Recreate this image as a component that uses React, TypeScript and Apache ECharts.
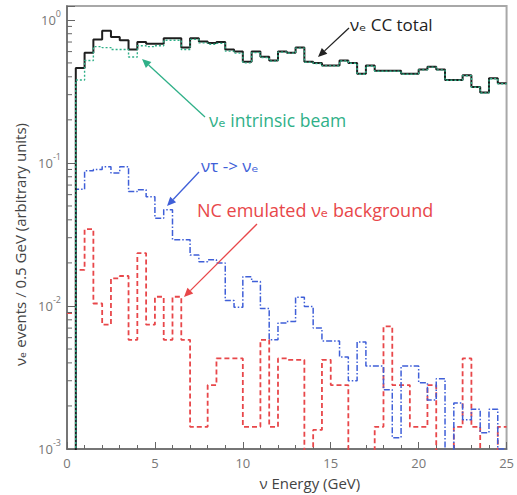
import React, { useEffect, useRef } from "react";
import * as echarts from "echarts";

// ---------- data (0.5 GeV bins from 0 to 25 GeV; 0 = empty bin) ----------
const BIN_WIDTH = 0.5;
const X_MAX = 25;
const X_TICKS = [0, 5, 10, 15, 20, 25];
const Y_DECADES = [0.001, 0.01, 0.1, 1];
const Y_MINOR = [
  0.002, 0.003, 0.004, 0.005, 0.006, 0.007, 0.008, 0.009,
  0.02, 0.03, 0.04, 0.05, 0.06, 0.07, 0.08, 0.09,
  0.2, 0.3, 0.4, 0.5, 0.6, 0.7, 0.8, 0.9,
];

const ccTotal = [
  0, 0.46, 0.59, 0.73, 0.84, 0.76, 0.72, 0.62, 0.70, 0.68,
  0.68, 0.745, 0.745, 0.64, 0.745, 0.705, 0.69, 0.70, 0.62, 0.60,
  0.51, 0.60, 0.553, 0.52, 0.60, 0.59, 0.64, 0.51, 0.50, 0.48,
  0.48, 0.52, 0.50, 0.42, 0.48, 0.44, 0.44, 0.44, 0.42, 0.42,
  0.45, 0.47, 0.45, 0.38, 0.38, 0.41, 0.34, 0.31, 0.39, 0.36,
];

const intrinsicBeam = [
  0, 0.38, 0.52, 0.65, 0.64, 0.62, 0.62, 0.55, 0.66, 0.65,
  0.66, 0.72, 0.72, 0.62, 0.73, 0.69, 0.675, 0.685, 0.605, 0.585,
  0.50, 0.59, 0.545, 0.515, 0.595, 0.585, 0.635, 0.505, 0.495, 0.477,
  0.477, 0.516, 0.497, 0.417, 0.476, 0.437, 0.437, 0.438, 0.417, 0.418,
  0.447, 0.467, 0.447, 0.378, 0.378, 0.407, 0.338, 0.308, 0.388, 0.358,
];

const tauToE = [
  0, 0.0655, 0.088, 0.090, 0.094, 0.085, 0.094, 0.063, 0.065, 0.058,
  0.041, 0.047, 0.029, 0.029, 0.0227, 0.0204, 0.021, 0.020, 0.0109, 0.0098,
  0.016, 0.0148, 0.0096, 0.0058, 0.0076, 0.0078, 0.0115, 0.0099, 0.0070, 0.0057,
  0.0057, 0.0044, 0.0030, 0.0056, 0.0038, 0.0038, 0.0026, 0.0012, 0.0038, 0.0038,
  0.0029, 0.0022, 0.0031, 0, 0.0021, 0.0016, 0.0019, 0.0013, 0.0019, 0.0010,
];

const ncBackground = [
  0.0089, 0.0179, 0.0344, 0.0104, 0.0074, 0.0156, 0.0162, 0.0058, 0.0234, 0.0074,
  0.0116, 0.0058, 0.0116, 0.0058, 0.00143, 0.00143, 0.0028, 0.0043, 0.0043, 0.0043,
  0.00143, 0.00143, 0.0058, 0.00143, 0.0043, 0.0042, 0.0042, 0, 0.00136, 0.0042,
  0.0028, 0.0028, 0, 0, 0, 0.00143, 0.0072, 0.0028, 0.0028, 0.00143,
  0.00143, 0.0028, 0, 0, 0.00143, 0.0043, 0.00143, 0, 0, 0.00143,
];

// ---------- helpers ----------
const FONT = '"Open Sans", "DejaVu Sans", sans-serif';
const EMPTY_FLOOR = 1e-5; // empty bins drawn below the axis (clipped)

function histPoints(values: number[]) {
  const pts: [number, number][] = values.map((v, i) => [i * BIN_WIDTH, v > 0 ? v : EMPTY_FLOOR]);
  const last = values[values.length - 1];
  pts.push([X_MAX, last > 0 ? last : EMPTY_FLOOR]);
  return pts;
}

function arrow(x1: number, y1: number, x2: number, y2: number, color: string, head = 9) {
  const ang = Math.atan2(y2 - y1, x2 - x1);
  const hx = x2 - head * Math.cos(ang);
  const hy = y2 - head * Math.sin(ang);
  const px = -Math.sin(ang) * head * 0.45;
  const py = Math.cos(ang) * head * 0.45;
  return [
    { type: "line", shape: { x1, y1, x2: hx, y2: hy }, style: { stroke: color, lineWidth: 1.3 }, z: 100 },
    {
      type: "polygon",
      shape: { points: [[x2, y2], [hx + px, hy + py], [hx - px, hy - py]] },
      style: { fill: color },
      z: 100,
    },
  ];
}

function label(x: number, y: number, text: string, color: string, size = 16) {
  return {
    type: "text",
    x,
    y,
    z: 100,
    style: { text, fill: color, fontSize: size, fontFamily: FONT, align: "left", verticalAlign: "middle" },
  };
}

export default function App() {
  const ref = useRef<HTMLDivElement>(null);

  useEffect(() => {
    if (!ref.current) return;
    const chart = echarts.init(ref.current, undefined, { renderer: "svg" });

    const BLACK = "#1e1e1e";
    const GREEN = "#2fb088";
    const BLUE = "#3f5fd8";
    const RED = "#e8474a";

    const option: any = {
      animation: false,
      backgroundColor: "#ffffff",
      grid: {
        left: 67,
        right: 9,
        top: 6,
        bottom: 46,
        show: true,
        borderColor: "#a8a8a8",
        borderWidth: 2,
        backgroundColor: "transparent",
      },
      xAxis: {
        type: "value",
        min: 0,
        max: X_MAX,
        interval: 5,
        name: "ν Energy (GeV)",
        nameLocation: "middle",
        nameGap: 26,
        nameTextStyle: { fontSize: 15, color: "#444", fontFamily: FONT, padding: [0, 0, 0, 46] },
        axisLine: { show: true, lineStyle: { color: "#666", width: 1.5 } },
        axisTick: { show: true, inside: true, length: 7, lineStyle: { color: "#666" } },
        minorTick: { show: true, splitNumber: 5, length: 4, lineStyle: { color: "#666" } },
        axisLabel: {
          color: "#777",
          fontSize: 13,
          fontFamily: FONT,
          margin: 7,
          formatter: (v: number) => (X_TICKS.indexOf(v) >= 0 ? String(v) : ""),
        },
        splitLine: { show: false },
      },
      yAxis: {
        type: "log",
        logBase: 10,
        min: Y_DECADES[0],
        max: 1.25,
        name: "νₑ events / 0.5 GeV (arbitrary units)",
        nameLocation: "middle",
        nameGap: 34,
        nameTextStyle: { fontSize: 15, color: "#444", fontFamily: FONT, padding: [0, 34, 0, 0] },
        axisLine: { show: true, lineStyle: { color: "#666", width: 1.5 } },
        axisTick: { show: true, inside: true, length: 8, lineStyle: { color: "#666" } },
        splitLine: { show: false },
        axisLabel: {
          margin: 6,
          color: "#777",
          fontFamily: FONT,
          formatter: (v: number) => {
            const e = Math.log10(v);
            const r = Math.round(e);
            if (Math.abs(e - r) > 1e-6) return "";
            return "{b|10}{s|" + r + "}";
          },
          rich: {
            b: { fontSize: 13, color: "#777", fontFamily: FONT, lineHeight: 22 },
            s: { fontSize: 9, color: "#777", fontFamily: FONT, verticalAlign: "top", lineHeight: 12 },
          },
        },
      },
      series: [
        {
          name: "NC emulated νe background",
          type: "line",
          step: "end",
          data: histPoints(ncBackground),
          showSymbol: false,
          clip: true,
          lineStyle: { color: RED, width: 1.8, type: [5, 3] },
          z: 3,
        },
        {
          name: "ντ -> νe",
          type: "line",
          step: "end",
          data: histPoints(tauToE),
          showSymbol: false,
          clip: true,
          lineStyle: { color: BLUE, width: 1.5, type: [6, 2, 1.5, 2] },
          z: 4,
        },
        {
          name: "νe CC total",
          type: "line",
          step: "end",
          data: histPoints(ccTotal),
          showSymbol: false,
          clip: true,
          lineStyle: { color: BLACK, width: 2 },
          z: 5,
        },
        {
          name: "νe intrinsic beam",
          type: "line",
          step: "end",
          data: histPoints(intrinsicBeam),
          showSymbol: false,
          clip: true,
          lineStyle: { color: GREEN, width: 1.4, type: [2, 2] },
          z: 6,
        },
        {
          name: "minor ticks",
          type: "custom",
          silent: true,
          clip: false,
          z: 7,
          data: Y_MINOR.map((v) => [0, v]),
          renderItem: (_params: any, api: any) => {
            const p = api.coord([0, api.value(1)]);
            return {
              type: "line",
              shape: { x1: p[0], y1: p[1], x2: p[0] + 5, y2: p[1] },
              style: { stroke: "#666", lineWidth: 1 },
            };
          },
        },
      ],
      graphic: [
        label(350, 24, "νₑ CC total", "#222", 17),
        ...arrow(349, 28, 318, 57, "#222"),
        label(209, 120, "νₑ intrinsic beam", GREEN, 17.5),
        ...arrow(205, 117, 142, 59, GREEN),
        label(201, 165, "ντ -> νₑ", BLUE, 17),
        ...arrow(199, 172, 167, 206, BLUE),
        label(197, 210, "NC emulated νₑ background", RED, 18),
        ...arrow(257, 224, 184, 297, RED),
      ],
    };

    chart.setOption(option);
    return () => chart.dispose();
  }, []);

  return (
    <div
      ref={ref}
      style={{ position: "absolute", left: 0, top: 0, width: 517, height: 495, background: "#fff" }}
    />
  );
}
